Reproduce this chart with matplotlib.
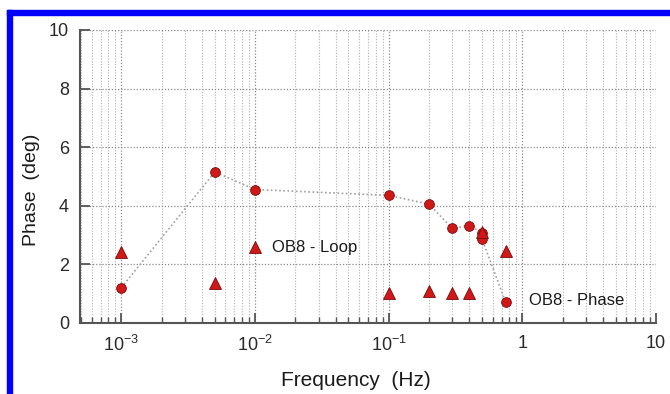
#Phase vs frequency plot for OB8 (phase and loop)
import matplotlib.pyplot as plt
import matplotlib.ticker as mticker
from matplotlib.patches import Rectangle

plt.rcParams['font.family'] = ['Liberation Sans', 'DejaVu Sans']
plt.rcParams['mathtext.default'] = 'regular'

#Phase data (circles, joined by dotted line)
phase_freq = [0.001, 0.005, 0.01, 0.1, 0.2, 0.3, 0.4, 0.5, 0.5, 0.75]
phase_deg = [1.2, 5.15, 4.55, 4.35, 4.05, 3.22, 3.32, 3.08, 2.85, 0.7]

#Loop data (triangles)
loop_freq = [0.001, 0.005, 0.01, 0.1, 0.2, 0.3, 0.4, 0.5, 0.75]
loop_deg = [2.42, 1.36, 2.58, 1.03, 1.1, 1.02, 1.02, 3.1, 2.45]

xtick_vals = [1e-3, 1e-2, 1e-1, 1, 10]
xtick_labels = ['$10^{-3}$', '$10^{-2}$', '$10^{-1}$', '1', '10']
ytick_vals = [0, 2, 4, 6, 8, 10]

fig = plt.figure(figsize=(6.7, 3.94), dpi=100)
ax = fig.add_axes([80/670, 1-322.7/394, 576/670, 292.7/394])

red = '#d01818'
edge = '#7a0a0a'
ax.plot(phase_freq, phase_deg, ls=(0, (1, 1.5)), color='#a0a0a0', lw=1.2, zorder=2)
ax.plot(phase_freq, phase_deg, ls='none', marker='o', ms=7, mfc=red, mec=edge,
        mew=0.6, zorder=4)
ax.plot(loop_freq, loop_deg, ls='none', marker='^', ms=8.5, mfc=red, mec=edge,
        mew=0.6, zorder=4)

ax.set_xscale('log')
ax.set_xlim(4.9e-4, 10)
ax.set_ylim(0, 10)
ax.set_xticks(xtick_vals)
ax.set_xticklabels(xtick_labels)
ax.xaxis.set_minor_locator(mticker.LogLocator(base=10, subs=range(2, 10), numticks=20))
ax.xaxis.set_minor_formatter(mticker.NullFormatter())
ax.set_yticks(ytick_vals)

ax.grid(True, which='major', ls=(0, (1, 1.5)), color='#8a8a8a', lw=0.9)
ax.grid(True, which='minor', axis='x', ls=(0, (1, 1.5)), color='#b0b0b0', lw=0.8)
ax.set_axisbelow(True)

for s in ['top', 'right']:
    ax.spines[s].set_visible(False)
for s in ['left', 'bottom']:
    ax.spines[s].set_color('#555555')
    ax.spines[s].set_linewidth(1.5)

ax.tick_params(axis='both', which='major', direction='in', length=7, width=1.3,
               color='#555555', labelsize=13, labelcolor='#2a2a2a', pad=8)
ax.tick_params(axis='x', which='minor', direction='in', length=4, width=1,
               color='#555555')
ax.tick_params(axis='x', which='major', pad=9)

ax.text(0.0135, 2.58, 'OB8 - Loop', fontsize=12, color='#1a1a1a', va='center')
ax.text(1.13, 0.75, 'OB8 - Phase', fontsize=12, color='#1a1a1a', va='center')

fig.text(356/670, 1-380/394, 'Frequency  (Hz)', fontsize=15, color='#1a1a1a',
         ha='center', va='center')
fig.text(32/670, 1-190/394, 'Phase  (deg)', fontsize=14, color='#1a1a1a',
         ha='center', va='center', rotation=90)

#Blue frame on the top and left
fig.patches.append(Rectangle((7/670, 0), 5/670, 1-10/394, transform=fig.transFigure,
                             color='#0000ff', zorder=10))
fig.patches.append(Rectangle((7/670, 1-15/394), 1-7/670, 5/394, transform=fig.transFigure,
                             color='#0000ff', zorder=10))

fig.savefig('out.png', dpi=100)
